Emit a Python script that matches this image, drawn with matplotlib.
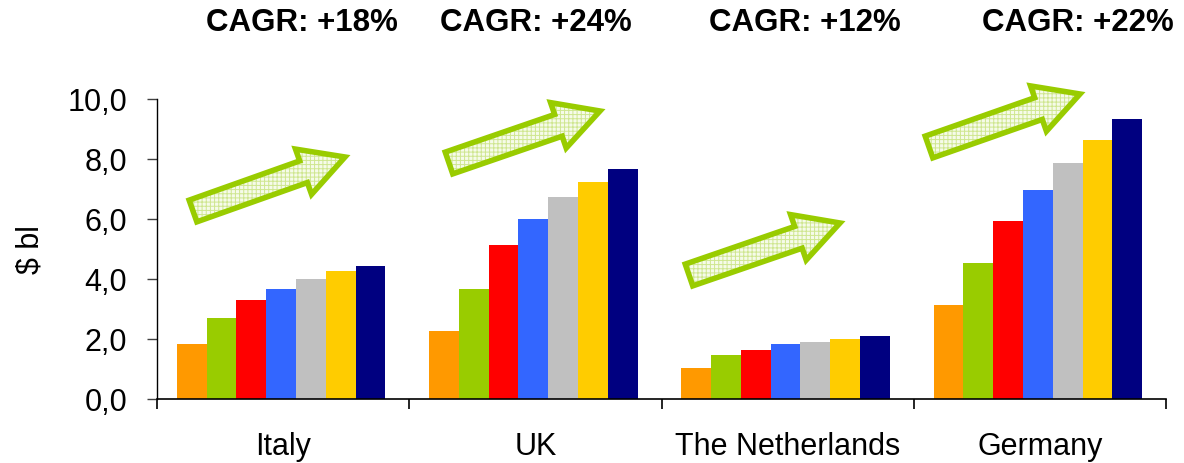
import numpy as np
import matplotlib
matplotlib.use("Agg")
from matplotlib import pyplot as plt
from matplotlib.patches import Polygon
from matplotlib.transforms import Affine2D

matplotlib.rcParams['font.family'] = ['Liberation Sans', 'DejaVu Sans']
matplotlib.rcParams['hatch.linewidth'] = 0.7

countries = ['Italy', 'UK', 'The Netherlands', 'Germany']
cagr = ['+18%', '+24%', '+12%', '+22%']
# market size ($ bl), seven consecutive years per country
italy = [1.83, 2.70, 3.30, 3.67, 4.00, 4.27, 4.43]
uk = [2.27, 3.67, 5.13, 6.00, 6.73, 7.23, 7.67]
netherlands = [1.03, 1.47, 1.63, 1.83, 1.90, 2.00, 2.10]
germany = [3.13, 4.53, 5.93, 6.97, 7.87, 8.63, 9.33]
year_colors = ['#FF9900', '#99CC00', '#FF0000', '#3366FF', '#C0C0C0', '#FFCC00', '#000080']

W, H = 1184, 464
fig = plt.figure(figsize=(W / 100, H / 100), dpi=100)
ax = fig.add_axes([157 / W, 64 / H, (1166 - 157) / W, 300 / H])

values = np.array([italy, uk, netherlands, germany])
step = 0.118
x = np.arange(len(countries))
for j, c in enumerate(year_colors):
    ax.bar(x + (j - 3) * step - 0.008, values[:, j], width=step, color=c, linewidth=0)

ax.set_xlim(-0.5, len(countries) - 0.5)
ax.set_ylim(0, 10)
ax.set_yticks(np.arange(0, 10.1, 2))
ax.yaxis.set_major_formatter(matplotlib.ticker.FuncFormatter(lambda v, p: ('%.1f' % v).replace('.', ',')))
ax.set_xticks(x)
ax.set_xticklabels(countries)
ax.set_xticks(np.arange(-0.5, len(countries)), minor=True)
ax.tick_params(axis='x', which='major', length=0, pad=23, labelsize=22)
ax.tick_params(axis='x', which='minor', length=7.5, width=1.2, direction='out')
ax.tick_params(axis='y', length=7.5, width=1.0, pad=14, labelsize=22, color='#404040')
for s in ['top', 'right']:
    ax.spines[s].set_visible(False)
ax.spines['left'].set_linewidth(1.0)
ax.spines['bottom'].set_linewidth(1.2)
ax.set_ylabel('$ bl', fontsize=22, labelpad=16)

# CAGR headline over each country
cagr_x = [0.074, 1.0, 2.07, 3.15]
for cx, g in zip(cagr_x, cagr):
    ax.text(cx, 12.57, 'CAGR: ' + g, ha='center', va='center', fontsize=22.5,
            fontweight='bold', clip_on=False)

# growth arrows, laid out in pixel space (y down)
px = Affine2D().scale(1 / W, -1 / H).translate(0, 1) + fig.transFigure
arrows = [((193, 212), (345, 158)),
          ((449, 164), (600, 112)),
          ((689, 276), (840, 224)),
          ((929, 148), (1080, 95))]

def arrow_shape(tail, tip, shaft=23, head=48, head_len=44):
    t = np.array(tail, float)
    p = np.array(tip, float)
    d = (p - t) / np.linalg.norm(p - t)
    n = np.array([d[1], -d[0]])
    b = p - d * head_len
    return [t + n * shaft / 2, b + n * shaft / 2, b + n * head / 2, p,
            b - n * head / 2, b - n * shaft / 2, t - n * shaft / 2]

for tail, tip in arrows:
    verts = arrow_shape(tail, tip)
    fig.patches.append(Polygon(verts, closed=True, transform=px, facecolor='#F6FBEA',
                               edgecolor='#CFE690', hatch='++++', linewidth=0))
    fig.patches.append(Polygon(verts, closed=True, transform=px, fill=False,
                               edgecolor='#99CC00', linewidth=4, joinstyle='miter'))

fig.savefig('out.png', dpi=100)
